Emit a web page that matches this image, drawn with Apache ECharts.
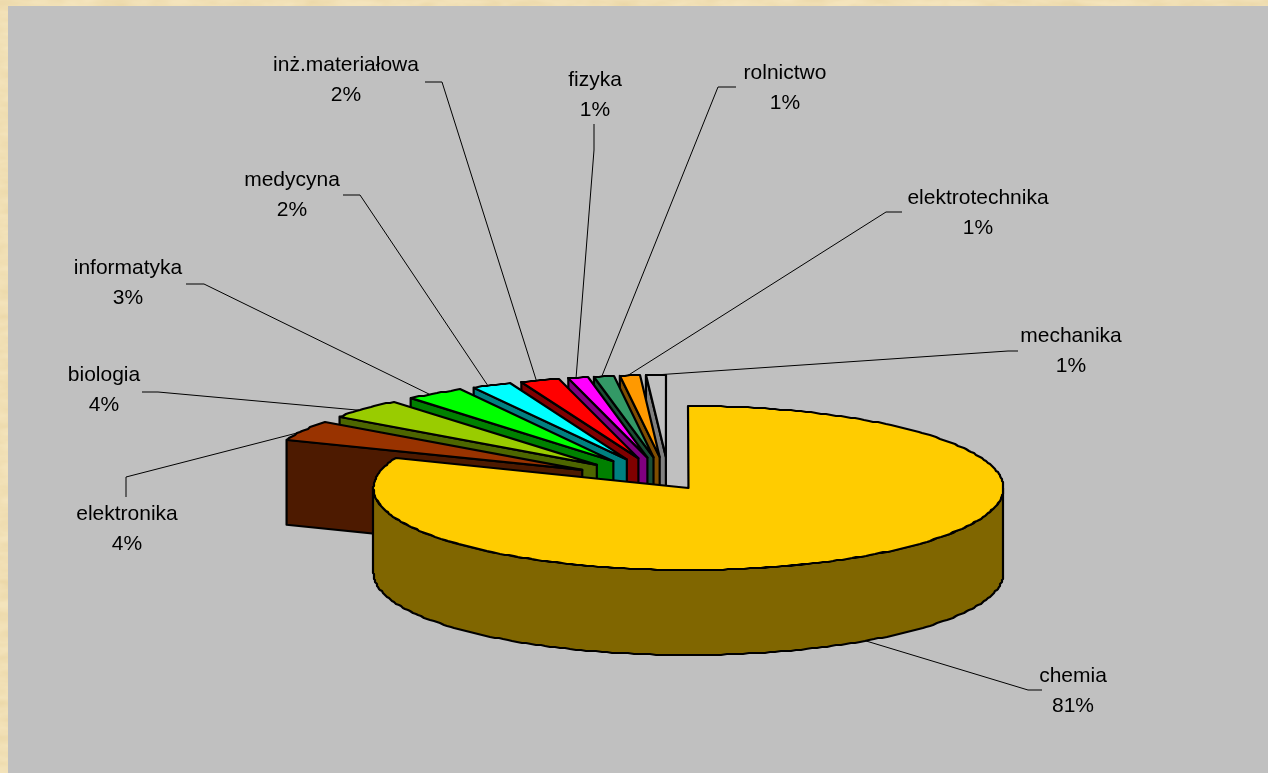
<!DOCTYPE html>
<html>
<head>
<meta charset="utf-8">
<style>
html,body{margin:0;padding:0;width:100%;height:100%;overflow:hidden;background-color:#F4E4BC;
background-image:url("data:image/svg+xml,%3Csvg xmlns='http://www.w3.org/2000/svg' width='1268' height='773'%3E%3Cfilter id='n'%3E%3CfeTurbulence type='fractalNoise' baseFrequency='0.03 0.09' numOctaves='3' seed='4'/%3E%3CfeColorMatrix values='0 0 0 0 0.78 0 0 0 0 0.62 0 0 0 0 0.32 0.9 0 0 0 -0.22'/%3E%3C/filter%3E%3Crect width='1268' height='773' filter='url(%23n)'/%3E%3C/svg%3E");}
#chart{width:1268px;height:773px;}
</style>
<script src="https://cdn.jsdelivr.net/npm/echarts@6/dist/echarts.min.js"></script>
</head>
<body>
<div id="chart"></div>
<script>
// data, clockwise from 12 o'clock
const categories = ['chemia','elektronika','biologia','informatyka','medycyna','inż.materiałowa','fizyka','rolnictwo','elektrotechnika','mechanika'];
const shares = [81,4,4,3,2,2,1,1,1,1];

// styles
const topColors = ['#FFCC00','#993300','#99CC00','#00FF00','#00FFFF','#FF0000','#FF00FF','#339966','#FF9900','#C0C0C0'];
const wallColors = ['#806600','#4D1A00','#4D6600','#008000','#008080','#800000','#800080','#1A4D33','#804D00','#808080'];

// layout of the tilted pie
const pie = {cx:669, cy:482, ry:82, depth:85, ex:99, ey:25};
const radiusX = [315,318,318,318,318,318,318,318,318,318];
const explodeX = [0.35,1,1,1,1,1,1,1,1,1];
const explodeY = [0.29,1,1,1,1,1,1,1,1,1];
// label centres and leader elbows
const labelPos = [[1073,691],[127,529],[104,390],[128,283],[292,195],[346,80],[595,95],[785,88],[978,213],[1071,351]];
const elbows = [
  [[1028,690],[1042,690]],
  [[126,477],[126,497]],
  [[158,392],[142,392]],
  [[204,284],[186,284]],
  [[360,195],[343,195]],
  [[442,82],[425,82]],
  [[594,150],[594,124]],
  [[718,87],[736,87]],
  [[886,212],[902,212]],
  [[1008,351],[1018,351]]
];

const total = shares.reduce((a,b)=>a+b,0);
const starts = [];
shares.reduce((acc,v,i)=>{starts[i]=acc;return acc+v;},0);
const rad = d => d*Math.PI/180;
function geom(i){
  const a0 = starts[i]/total*360, a1 = (starts[i]+shares[i])/total*360, mid=(a0+a1)/2;
  const ax = pie.cx + explodeX[i]*pie.ex*Math.sin(rad(mid));
  const ay = pie.cy - explodeY[i]*pie.ey*Math.cos(rad(mid));
  const pt = d => [ax+radiusX[i]*Math.sin(rad(d)), ay-pie.ry*Math.cos(rad(d))];
  return {a0,a1,mid,ax,ay,pt};
}
// the outline is snapped to whole pixels, which gives the arc its slightly rough edge
function arc(g,from,to){
  const out=[]; const n=Math.max(2,Math.ceil((to-from)/1));
  for(let k=0;k<=n;k++){
    const p=g.pt(from+(to-from)*k/n);
    out.push([Math.round(p[0]),Math.round(p[1])]);
  }
  return out;
}
const edge = {stroke:'#000',lineWidth:2.2,lineJoin:'round'};

function renderSlice(params,api){
  const i = api.value(0);
  const g = geom(i);
  const children=[];
  // outer wall: only the part facing the viewer
  const f0=Math.max(g.a0,90), f1=Math.min(g.a1,270);
  if(f1>f0){
    const t=arc(g,f0,f1);
    const b=t.slice().reverse().map(p=>[p[0],p[1]+pie.depth]);
    children.push({type:'polygon',shape:{points:t.concat(b)},style:{fill:wallColors[i],...edge}});
  }
  // radial wall at the slice's counter-clockwise edge
  if(g.a0>180){
    const p=g.pt(g.a0);
    children.push({type:'polygon',shape:{points:[p,[g.ax,g.ay],[g.ax,g.ay+pie.depth],[p[0],p[1]+pie.depth]]},style:{fill:wallColors[i],...edge}});
  }
  // top face
  children.push({type:'polygon',shape:{points:[[g.ax,g.ay]].concat(arc(g,g.a0,g.a1))},style:{fill:topColors[i],...edge}});
  return {type:'group',children};
}
function renderLabel(params,api){
  const i = api.value(0);
  const g = geom(i);
  const front = g.mid>90 && g.mid<270;
  const p = g.pt(front ? g.mid : g.a0+(g.a1-g.a0)*0.4);
  const start = [p[0],p[1]+(front?pie.depth:0)];
  return {type:'group',children:[
    {type:'polyline',shape:{points:[start].concat(elbows[i])},style:{stroke:'#000',lineWidth:1,fill:null}},
    {type:'text',style:{text:categories[i]+'\n'+shares[i]+'%',x:labelPos[i][0],y:labelPos[i][1],align:'center',verticalAlign:'middle',lineHeight:29.5,
      font:'21px "Liberation Sans", Arial, sans-serif',fill:'#000'}}
  ]};
}
// painter's order: each slice's top covers the wall of the one drawn before it; the big slice goes last
const paintOrder = categories.map((_,i)=>i).slice(1).reverse().concat([0]);

const chart = echarts.init(document.getElementById('chart'),null,{renderer:'canvas'});
chart.setOption({
  animation:false,
  backgroundColor:'transparent',
  graphic:[{type:'rect',z:-1,shape:{x:8,y:6,width:1260,height:767},style:{fill:'#C0C0C0'}}],
  series:[
    {type:'custom',coordinateSystem:'none',z:2,silent:true,renderItem:renderLabel,data:categories.map((_,i)=>[i]),encode:{}},
    {type:'custom',coordinateSystem:'none',z:3,silent:true,renderItem:renderSlice,data:paintOrder.map(i=>[i]),encode:{}}
  ]
});
</script>
</body>
</html>
